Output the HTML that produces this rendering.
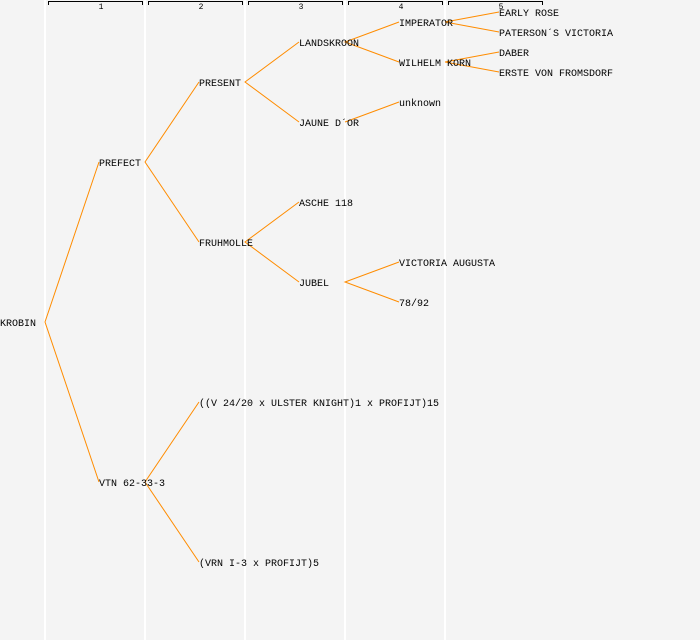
<!DOCTYPE html>
<html><head><style>
html,body{margin:0;padding:0;background:#f4f4f4;}
svg{display:block;}
text{font-family:"Liberation Mono","DejaVu Sans Mono",monospace;font-size:10px;fill:#000;}
.n{font-size:8px;}
</style></head><body>
<svg width="700" height="640" viewBox="0 0 700 640">
<rect width="700" height="640" fill="#f4f4f4"/>
<g stroke="#fff" stroke-width="2">
<line x1="45" y1="0" x2="45" y2="640"/><line x1="145" y1="0" x2="145" y2="640"/>
<line x1="245" y1="0" x2="245" y2="640"/><line x1="345" y1="0" x2="345" y2="640"/>
<line x1="445" y1="0" x2="445" y2="640"/>
</g>
<g stroke="#000" stroke-width="1" fill="none">
<path d="M48.5 5V1.5H142.5V5"/><path d="M148.5 5V1.5H242.5V5"/><path d="M248.5 5V1.5H342.5V5"/>
<path d="M348.5 5V1.5H442.5V5"/><path d="M448.5 5V1.5H542.5V5"/>
</g>
<g class="n" text-anchor="middle">
<text class="n" x="101" y="9">1</text><text class="n" x="201" y="9">2</text><text class="n" x="301" y="9">3</text><text class="n" x="401" y="9">4</text><text class="n" x="501" y="9">5</text>
</g>
<g stroke="#ff8c00" stroke-width="1" fill="none">
<path d="M99 162L45 322L99 482"/>
<path d="M199 82L145 162L199 242"/>
<path d="M199 402L145 482L199 562"/>
<path d="M299 42L245 82L299 122"/>
<path d="M299 202L245 242L299 282"/>
<path d="M399 22L345 42L399 62"/>
<path d="M345 122L399 102"/>
<path d="M399 262L345 282L399 302"/>
<path d="M499 12L445 22L499 32"/>
<path d="M499 52L445 62L499 72"/>
</g>
<g>
<text x="0" y="326">KROBIN</text>
<text x="99" y="166">PREFECT</text>
<text x="99" y="486">VTN 62-33-3</text>
<text x="199" y="86">PRESENT</text>
<text x="199" y="246">FRUHMOLLE</text>
<text x="199" y="406">((V 24/20 x ULSTER KNIGHT)1 x PROFIJT)15</text>
<text x="199" y="566">(VRN I-3 x PROFIJT)5</text>
<text x="299" y="46">LANDSKROON</text>
<text x="299" y="126">JAUNE D´OR</text>
<text x="299" y="206">ASCHE 118</text>
<text x="299" y="286">JUBEL</text>
<text x="399" y="26">IMPERATOR</text>
<text x="399" y="66">WILHELM KORN</text>
<text x="399" y="106">unknown</text>
<text x="399" y="266">VICTORIA AUGUSTA</text>
<text x="399" y="306">78/92</text>
<text x="499" y="16">EARLY ROSE</text>
<text x="499" y="36">PATERSON´S VICTORIA</text>
<text x="499" y="56">DABER</text>
<text x="499" y="76">ERSTE VON FROMSDORF</text>
</g>
</svg>
</body></html>
